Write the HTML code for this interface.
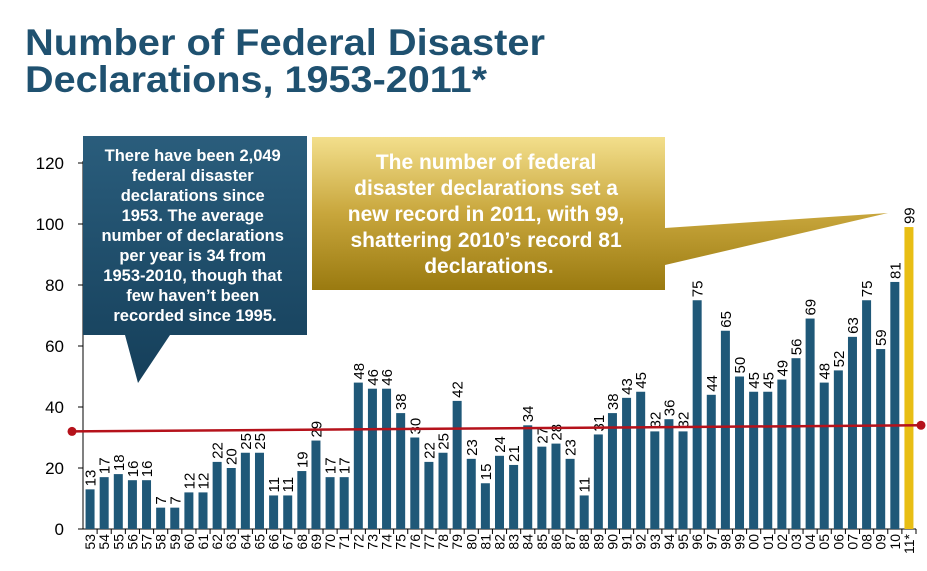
<!DOCTYPE html>
<html><head><meta charset="utf-8"><style>
body{margin:0;background:#fff;width:927px;height:571px;overflow:hidden}
svg{display:block;font-family:"Liberation Sans",Arial,sans-serif}
</style></head><body>
<svg id="chart" width="927" height="571" viewBox="0 0 927 571">
<defs>
<linearGradient id="blueG" x1="0" y1="0" x2="0" y2="1"><stop offset="0" stop-color="#2a5d7c"/><stop offset="1" stop-color="#153f5a"/></linearGradient>
<linearGradient id="goldG" x1="0" y1="0" x2="0" y2="1"><stop offset="0" stop-color="#f3df8c"/><stop offset="0.5" stop-color="#c8a63c"/><stop offset="1" stop-color="#9a7a10"/></linearGradient>
</defs>
<text x="25" y="55" font-size="37" font-weight="bold" fill="#1f5170" textLength="520" lengthAdjust="spacingAndGlyphs">Number of Federal Disaster</text>
<text x="25" y="92" font-size="37" font-weight="bold" fill="#1f5170" textLength="462" lengthAdjust="spacingAndGlyphs">Declarations, 1953-2011*</text>
<g id="axes"></g>
<g id="bars"></g>
<g id="avg"></g>
<g>
<polygon points="83,136 307,136 307,335 170,335 138,383 125,335 83,335" fill="url(#blueG)"/>
<text font-size="16.5" font-weight="bold" fill="#fff" text-anchor="middle">
<tspan x="195" y="161">There have been 2,049</tspan>
<tspan x="195" y="181">federal disaster</tspan>
<tspan x="195" y="201">declarations since</tspan>
<tspan x="195" y="221">1953.  The average</tspan>
<tspan x="195" y="241">number of declarations</tspan>
<tspan x="195" y="261">per year is 34 from</tspan>
<tspan x="195" y="281">1953-2010, though that</tspan>
<tspan x="195" y="301">few haven’t been</tspan>
<tspan x="195" y="321">recorded since 1995.</tspan>
</text>
</g>
<g>
<polygon points="312,137 665,137 665,228 888,213 665,265 665,290 312,290" fill="url(#goldG)"/>
<text font-size="21" font-weight="bold" fill="#fff" text-anchor="middle">
<tspan x="489" y="169">The number of federal</tspan>
<tspan x="489" y="195">disaster declarations set a</tspan>
<tspan x="489" y="221">new record in 2011, with 99,</tspan>
<tspan x="489" y="247">shattering 2010’s record 81</tspan>
<tspan x="489" y="273">declarations.</tspan>
</text>
</g>
</svg>
<script>
const years=["53","54","55","56","57","58","59","60","61","62","63","64","65","66","67","68","69","70","71","72","73","74","75","76","77","78","79","80","81","82","83","84","85","86","87","88","89","90","91","92","93","94","95","96","97","98","99","00","01","02","03","04","05","06","07","08","09","10","11*"];
const counts=[13,17,18,16,16,7,7,12,12,22,20,25,25,11,11,19,29,17,17,48,46,46,38,30,22,25,42,23,15,24,21,34,27,28,23,11,31,38,43,45,32,36,32,75,44,65,50,45,45,49,56,69,48,52,63,75,59,81,99];
const yTicks=[0,20,40,60,80,100,120];
const avgStart=32, avgEnd=34;
const NS="http://www.w3.org/2000/svg";
const x0=83,x1=916,yBase=529,yTop=163;
const slot=(x1-x0)/years.length;
const y=v=>yBase-(v/120)*(yBase-yTop);
const xc=i=>x0+slot*(i+0.5);
function mk(t,a,p){const e=document.createElementNS(NS,t);for(const k in a)e.setAttribute(k,a[k]);p.appendChild(e);return e;}
const axes=document.getElementById('axes'),bars=document.getElementById('bars'),avg=document.getElementById('avg');
const yl=mk('line',{x1:x0,y1:yTop-2,x2:x0,y2:yBase,stroke:'#000','stroke-width':1},axes);


const xl=mk('line',{x1:x0,y1:yBase,x2:x1,y2:yBase,stroke:'#000','stroke-width':1},axes);


yTicks.forEach(v=>{
  mk('line',{x1:x0-5,y1:y(v),x2:x0,y2:y(v),stroke:'#000'},axes);
  const t=mk('text',{x:64,y:y(v)+6,'font-size':17,'text-anchor':'end',fill:'#000'},axes);
  t.textContent=v;
  
  
});
years.forEach((yr,i)=>{
  const last=i===years.length-1;
  const r=mk('rect',{x:xc(i)-4.5,y:y(counts[i]),width:9,height:yBase-y(counts[i]),fill:last?'#e8be14':'#1f5878'},bars);
  
  
  mk('line',{x1:x0+slot*(i+1),y1:yBase,x2:x0+slot*(i+1),y2:yBase+5,stroke:'#000'},axes);
  const vl=mk('text',{transform:`translate(${xc(i)+5.5},${y(counts[i])-3}) rotate(-90)`,'font-size':15,fill:'#000'},bars);
  vl.textContent=counts[i];
  
  
  const xt=mk('text',{transform:`translate(${xc(i)+5},${yBase+5}) rotate(-90)`,'font-size':14,'text-anchor':'end',fill:'#000'},axes);
  xt.textContent=yr;
  
  
});
const ax0=72,ax1=921;
const al=mk('line',{x1:ax0,y1:y(avgStart),x2:ax1,y2:y(avgEnd),stroke:'#b5121b','stroke-width':2.5},avg);


[[ax0,avgStart],[ax1,avgEnd]].forEach(p=>{
  const c=mk('circle',{cx:p[0],cy:y(p[1]),r:4.5,fill:'#b5121b'},avg);
  
  
});
</script>
</body></html>
